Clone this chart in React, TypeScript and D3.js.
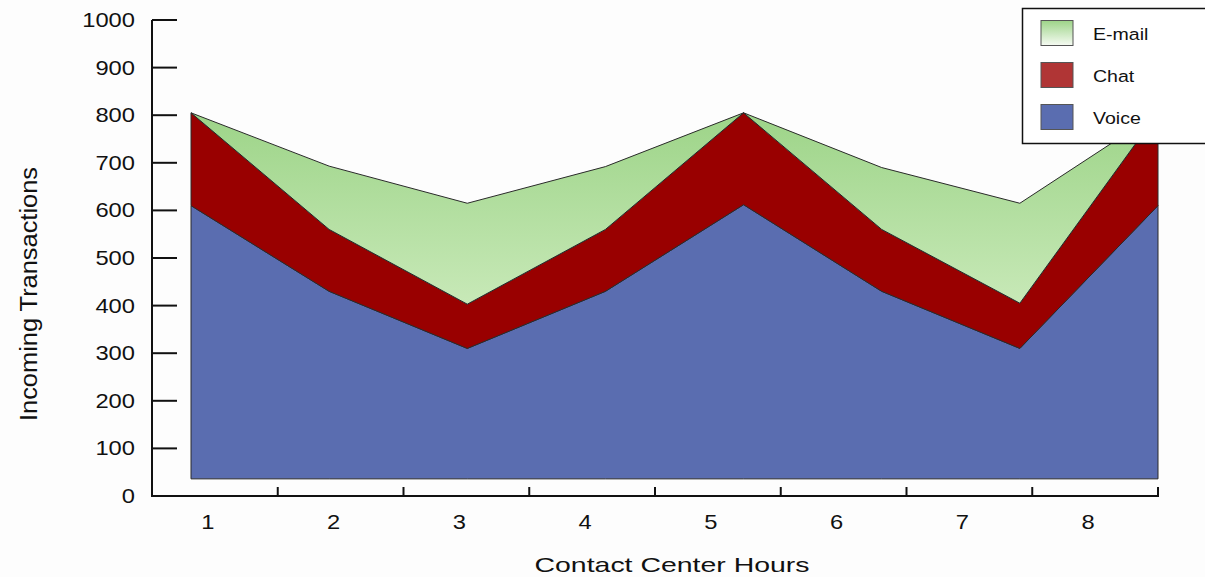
import React from "react";
import * as d3 from "d3";

const hours = ["1", "2", "3", "4", "5", "6", "7", "8"];
const voice = [610, 430, 310, 430, 612, 430, 310, 610];
const chat = [195, 130, 93, 130, 193, 130, 95, 195];
const email = [0, 133, 212, 132, 0, 130, 210, 0];
const yTicks = [0, 100, 200, 300, 400, 500, 600, 700, 800, 900, 1000];
const seriesKeys = ["voice", "chat", "email"];
const legendItems = [
  { key: "email", label: "E-mail" },
  { key: "chat", label: "Chat" },
  { key: "voice", label: "Voice" },
];
const baseValue = 36;

const W = 1205;
const H = 577;
const FONT = "'Liberation Sans', Arial, Helvetica, sans-serif";

export default function App() {
  const y = d3.scaleLinear().domain([0, 1000]).range([496, 20]);
  const xBand = d3.scaleBand<string>().domain(hours).range([152, 1158]);
  const xPoint = d3.scalePoint<string>().domain(hours).range([191, 1158]);

  const table = hours.map((h, i) => ({ hour: h, voice: voice[i], chat: chat[i], email: email[i] }));
  const stacked = d3.stack<any>().keys(seriesKeys)(table);

  const area = d3
    .area<any>()
    .x((d) => xPoint(d.data.hour) as number)
    .y0((d) => (d[0] === 0 ? y(baseValue) : y(d[0])))
    .y1((d) => y(d[1]));

  const fills: Record<string, string> = {
    voice: "#5a6db0",
    chat: "#990000",
    email: "url(#emailGrad)",
  };
  const legendFills: Record<string, string> = {
    voice: "#5a6db0",
    chat: "#b03535",
    email: "url(#emailLegendGrad)",
  };

  const bandStep = xBand.bandwidth();

  return (
    <div style={{ position: "absolute", left: 0, top: 0 }}>
      <svg width={W} height={H} style={{ display: "block", background: "#fdfdfd" }}>
        <defs>
          <linearGradient id="emailGrad" gradientUnits="userSpaceOnUse" x1="0" y1={y(805)} x2="0" y2={y(400)}>
            <stop offset="0" stopColor="#9dd488" />
            <stop offset="1" stopColor="#c8e9b8" />
          </linearGradient>
          <linearGradient id="emailLegendGrad" x1="0" y1="0" x2="0" y2="1">
            <stop offset="0" stopColor="#9dd488" />
            <stop offset="1" stopColor="#f6fbf3" />
          </linearGradient>
        </defs>

        {/* areas */}
        {stacked.map((s) => (
          <path
            key={s.key}
            d={area(s) as string}
            fill={fills[s.key]}
            stroke="#2a2a2a"
            strokeWidth={1}
            strokeLinejoin="miter"
          />
        ))}

        {/* y axis */}
        <line x1={152} x2={152} y1={y(1000)} y2={y(0)} stroke="#111" strokeWidth={2} />
        {yTicks.map((t) => (
          <g key={t}>
            {t > 0 && <line x1={152} x2={177} y1={y(t)} y2={y(t)} stroke="#111" strokeWidth={2} />}
            <g transform={`translate(135,${y(t)}) scale(1.13,1)`}>
              <text
                textAnchor="end"
                dominantBaseline="central"
                fontFamily={FONT}
                fontSize={21}
                fill="#111"
              >
                {t}
              </text>
            </g>
          </g>
        ))}

        {/* x axis */}
        <line x1={151} x2={1159} y1={y(0)} y2={y(0)} stroke="#111" strokeWidth={2} />
        {hours.map((h) => {
          const x0 = xBand(h) as number;
          const xe = x0 + bandStep;
          return (
            <g key={h}>
              <line x1={xe} x2={xe} y1={y(0)} y2={y(0) - 9} stroke="#111" strokeWidth={2} />
              <g transform={`translate(${x0 + bandStep / 2 - 7},${522}) scale(1.13,1)`}>
                <text textAnchor="middle" dominantBaseline="central" fontFamily={FONT} fontSize={21} fill="#111">
                  {h}
                </text>
              </g>
            </g>
          );
        })}

        {/* axis titles */}
        <text
          x={672}
          y={572}
          textAnchor="middle"
          fontFamily={FONT}
          fontSize={21}
          fill="#111"
          textLength={275}
          lengthAdjust="spacingAndGlyphs"
        >
          Contact Center Hours
        </text>
        <text
          transform={`translate(37,${294}) rotate(-90)`}
          textAnchor="middle"
          fontFamily={FONT}
          fontSize={23}
          fill="#111"
          textLength={254}
          lengthAdjust="spacingAndGlyphs"
        >
          Incoming Transactions
        </text>

        {/* legend */}
        <rect x={1022.5} y={8.5} width={200} height={135} fill="#ffffff" stroke="#111" strokeWidth={1.5} />
        {legendItems.map((it, i) => {
          const cy = 33 + i * 42;
          return (
            <g key={it.key}>
              <rect
                x={1041}
                y={cy - 12.5}
                width={32}
                height={25}
                fill={legendFills[it.key]}
                stroke="#555"
                strokeWidth={1}
              />
              <g transform={`translate(1093,${cy + 1}) scale(1.15,1)`}>
                <text dominantBaseline="central" fontFamily={FONT} fontSize={17} fill="#111">
                  {it.label}
                </text>
              </g>
            </g>
          );
        })}
      </svg>
    </div>
  );
}
